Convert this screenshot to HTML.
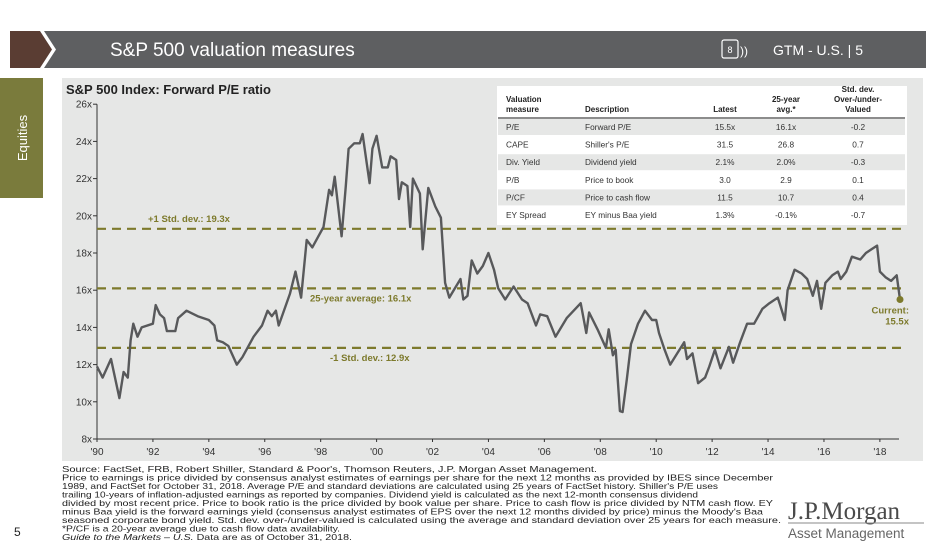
<!DOCTYPE html>
<html><head><meta charset="utf-8">
<style>
body{margin:0;background:#fff;width:939px;height:550px;overflow:hidden;font-family:"Liberation Sans",sans-serif}
svg text{font-family:"Liberation Sans",sans-serif}
</style></head>
<body>
<svg id="s" width="939" height="550" viewBox="0 0 939 550" xmlns="http://www.w3.org/2000/svg">
<g>
<rect x="40" y="31" width="886" height="37" fill="#5e5f61"/>
<polygon points="10,31 40,31 52,49.5 40,68 10,68" fill="#5a3d33"/>
<polygon points="40,31 44,31 56,49.5 44,68 40,68 52,49.5" fill="#fff"/>
<text x="110" y="56" font-size="19" fill="#fff">S&amp;P 500 valuation measures</text>
<rect x="722" y="40" width="16" height="18" rx="2" fill="none" stroke="#fff" stroke-width="1.2"/>
<text x="730" y="53" font-size="9" fill="#fff" text-anchor="middle">8</text>
<text x="740" y="55" font-size="12" fill="#fff">))</text>
<text x="773" y="55" font-size="14" fill="#fff">GTM - U.S.  |  5</text>
</g>
<g>
<rect x="0" y="78" width="43" height="120" fill="#7a7b3c"/>
<text transform="translate(27,138) rotate(-90)" font-size="13" fill="#fff" text-anchor="middle">Equities</text>
</g>
<rect x="62" y="78" width="861" height="383" fill="#e6e7e6"/>
<text x="66" y="94" font-size="13" font-weight="bold" fill="#222">S&amp;P 500 Index: Forward P/E ratio</text>
<g id="axes"></g>
<g id="refs"></g>
<g id="series"></g>
<g id="table"></g>
<g font-size="8.2" fill="#222">
<text x="62" y="472" textLength="535" lengthAdjust="spacingAndGlyphs">Source: FactSet, FRB, Robert Shiller, Standard &amp; Poor's, Thomson Reuters, J.P. Morgan Asset Management.</text>
<text x="62" y="480.5" textLength="711" lengthAdjust="spacingAndGlyphs">Price to earnings is price divided by consensus analyst estimates of earnings per share for the next 12 months as provided by IBES since December</text>
<text x="62" y="489" textLength="656" lengthAdjust="spacingAndGlyphs">1989, and FactSet for October 31, 2018. Average P/E and standard deviations are calculated using 25 years of FactSet history. Shiller's P/E uses</text>
<text x="62" y="497.5" textLength="636" lengthAdjust="spacingAndGlyphs">trailing 10-years of inflation-adjusted earnings as reported by companies. Dividend yield is calculated as the next 12-month consensus dividend</text>
<text x="62" y="506" textLength="711" lengthAdjust="spacingAndGlyphs">divided by most recent price. Price to book ratio is the price divided by book value per share. Price to cash flow is price divided by NTM cash flow. EY</text>
<text x="62" y="514.5" textLength="701" lengthAdjust="spacingAndGlyphs">minus Baa yield is the forward earnings yield (consensus analyst estimates of EPS over the next 12 months divided by price) minus the Moody's Baa</text>
<text x="62" y="523" textLength="719" lengthAdjust="spacingAndGlyphs">seasoned corporate bond yield. Std. dev. over-/under-valued is calculated using the average and standard deviation over 25 years for each measure.</text>
<text x="62" y="531.5" textLength="278" lengthAdjust="spacingAndGlyphs">*P/CF is a 20-year average due to cash flow data availability.</text>
<text x="62" y="540" textLength="290" lengthAdjust="spacingAndGlyphs"><tspan font-style="italic">Guide to the Markets – U.S.</tspan> Data are as of October 31, 2018.</text>
</g>
<text x="14" y="536" font-size="12" fill="#222">5</text>
<g>
<text x="788" y="519" font-size="25" fill="#4a4a4a" style="font-family:'Liberation Serif',serif">J.P.Morgan</text>
<line x1="788" y1="523" x2="924" y2="523" stroke="#888" stroke-width="1"/>
<text x="788" y="538" font-size="13.5" fill="#666">Asset Management</text>
</g>
</svg>
<script>
const years=[1990,1990.2,1990.5,1990.8,1990.95,1991.1,1991.2,1991.3,1991.45,1991.6,1992.0,1992.1,1992.25,1992.4,1992.5,1992.8,1992.9,1993.2,1993.6,1994.0,1994.2,1994.3,1994.5,1994.7,1995.0,1995.2,1995.6,1995.9,1996.1,1996.25,1996.4,1996.5,1996.9,1997.1,1997.3,1997.5,1997.7,1997.9,1998.1,1998.3,1998.4,1998.5,1998.75,1998.9,1999.0,1999.2,1999.4,1999.5,1999.65,1999.75,1999.85,2000.0,2000.2,2000.4,2000.5,2000.7,2000.8,2000.9,2001.1,2001.2,2001.3,2001.55,2001.65,2001.85,2002.1,2002.3,2002.45,2002.6,2002.8,2003.0,2003.1,2003.25,2003.4,2003.6,2003.8,2004.0,2004.2,2004.35,2004.6,2004.9,2005.2,2005.4,2005.7,2005.85,2006.1,2006.4,2006.8,2007.3,2007.5,2007.6,2007.9,2008.2,2008.3,2008.45,2008.55,2008.7,2008.8,2008.95,2009.1,2009.35,2009.6,2009.85,2010.0,2010.1,2010.3,2010.5,2010.75,2011.0,2011.1,2011.3,2011.5,2011.75,2011.9,2012.1,2012.3,2012.6,2012.75,2013.0,2013.25,2013.5,2013.8,2014.05,2014.35,2014.6,2014.7,2014.95,2015.2,2015.4,2015.6,2015.75,2015.9,2016.05,2016.3,2016.5,2016.6,2016.8,2017.0,2017.3,2017.5,2017.7,2017.9,2018.0,2018.2,2018.4,2018.6,2018.72];
const peValues=[11.9,11.3,12.3,10.2,11.6,11.3,13.3,14.2,13.5,14.0,14.2,15.2,14.7,14.5,13.8,13.8,14.5,14.9,14.6,14.4,14.1,13.3,13.2,13.0,12.0,12.4,13.5,14.1,14.9,14.6,14.9,14.1,15.8,17.0,15.6,18.7,18.3,18.85,19.4,21.4,21.1,22.1,18.9,21.6,23.6,23.9,23.9,24.4,22.8,21.75,23.6,24.3,22.6,22.6,23.2,23.0,20.9,21.8,21.6,19.4,22.0,21.2,18.2,21.5,20.5,19.9,16.4,15.6,16.1,16.6,15.5,15.7,17.6,16.9,17.3,18.0,17.1,16.1,15.5,16.2,15.5,15.3,14.1,14.7,14.6,13.5,14.5,15.3,13.7,14.8,13.9,12.9,13.9,12.5,12.8,9.5,9.45,11.2,13.1,14.2,14.9,14.4,14.4,13.7,12.8,12.0,12.6,13.2,12.3,12.6,11.0,11.3,11.9,12.8,11.8,12.95,12.1,13.2,14.2,14.2,15.0,15.3,15.6,14.4,16.0,17.1,16.9,16.6,15.7,16.5,15.0,16.4,16.8,17.0,16.6,17.0,17.8,17.65,18.0,18.2,18.4,17.0,16.7,16.5,16.8,15.5];
const yTicks=[8,10,12,14,16,18,20,22,24,26];
const xTickYears=[1990,1992,1994,1996,1998,2000,2002,2004,2006,2008,2010,2012,2014,2016,2018];
const refValues=[19.3,16.1,12.9];
const refLabels=["+1 Std. dev.: 19.3x","25-year average: 16.1x","-1 Std. dev.: 12.9x"];
const tableMeasures=["P/E","CAPE","Div. Yield","P/B","P/CF","EY Spread"];
const tableDescs=["Forward P/E","Shiller's P/E","Dividend yield","Price to book","Price to cash flow","EY minus Baa yield"];
const tableLatest=["15.5x","31.5","2.1%","3.0","11.5","1.3%"];
const tableAvg=["16.1x","26.8","2.0%","2.9","10.7","-0.1%"];
const tableStd=["-0.2","0.7","-0.3","0.1","0.4","-0.7"];

const NS="http://www.w3.org/2000/svg";
const X=y=>97+(y-1990)*27.96;
const Y=v=>439-(v-8)*18.6;
function mk(parent,tag,attrs,text){const e=document.createElementNS(NS,tag);for(const k in attrs)e.setAttribute(k,attrs[k]);if(text!==undefined)e.textContent=text;parent.appendChild(e);return e;}
const axes=document.getElementById('axes');
let a=mk(axes,'line',{x1:97,y1:Y(26),x2:97,y2:Y(8),stroke:'#333','stroke-width':1});


a=mk(axes,'line',{x1:97,y1:Y(8),x2:899,y2:Y(8),stroke:'#333','stroke-width':1});


yTicks.forEach(v=>{
  mk(axes,'line',{x1:93,y1:Y(v),x2:97,y2:Y(v),stroke:'#333'});
  const t=mk(axes,'text',{x:92,y:Y(v)+3.5,'font-size':10,'text-anchor':'end',fill:'#333'},v+'x');
  
  
});
xTickYears.forEach(yr=>{
  mk(axes,'line',{x1:X(yr),y1:Y(8),x2:X(yr),y2:Y(8)+3,stroke:'#333'});
  const t=mk(axes,'text',{x:X(yr),y:455,'font-size':10,'text-anchor':'middle',fill:'#333'},"'"+String(yr).slice(2));
  
  
});
const refs=document.getElementById('refs');
const labelPos=[[148,-7],[310,13],[330,13]];
refValues.forEach((v,i)=>{
  const l=mk(refs,'line',{x1:97,y1:Y(v),x2:905,y2:Y(v),stroke:'#7d7a2c','stroke-width':2.2,'stroke-dasharray':'9,6'});
  
  
  const t=mk(refs,'text',{x:labelPos[i][0],y:Y(v)+labelPos[i][1],'font-size':9.5,'font-weight':'bold',fill:'#7d7a2c'},refLabels[i]);
  
  
});
const ser=document.getElementById('series');
const p=mk(ser,'polyline',{points:years.map((y,i)=>X(y).toFixed(1)+','+Y(peValues[i]).toFixed(1)).join(' '),fill:'none',stroke:'#58595b','stroke-width':2.4,'stroke-linejoin':'round'});


const li=years.length-1;
const d=mk(ser,'circle',{cx:X(years[li]),cy:Y(peValues[li]),r:3.5,fill:'#7d7a2c'});


const c1=mk(ser,'text',{x:909,y:Y(peValues[li])+14,'font-size':9.5,'font-weight':'bold',fill:'#7d7a2c','text-anchor':'end'},'Current:');


mk(ser,'text',{x:909,y:Y(peValues[li])+25,'font-size':9.5,'font-weight':'bold',fill:'#7d7a2c','text-anchor':'end'},peValues[li].toFixed(1)+'x');
const tb=document.getElementById('table');
mk(tb,'rect',{x:497,y:86,width:410,height:139,fill:'#fff'});
const cols=[506,585,725,786,858];
const anchors=['start','start','middle','middle','middle'];
mk(tb,'text',{x:cols[0],y:102,'font-size':8,'font-weight':'bold',fill:'#222'},'Valuation');
mk(tb,'text',{x:cols[0],y:112,'font-size':8,'font-weight':'bold',fill:'#222'},'measure');
mk(tb,'text',{x:cols[1],y:112,'font-size':8,'font-weight':'bold',fill:'#222'},'Description');
mk(tb,'text',{x:cols[2],y:112,'font-size':8,'font-weight':'bold',fill:'#222','text-anchor':'middle'},'Latest');
mk(tb,'text',{x:cols[3],y:102,'font-size':8,'font-weight':'bold',fill:'#222','text-anchor':'middle'},'25-year');
mk(tb,'text',{x:cols[3],y:112,'font-size':8,'font-weight':'bold',fill:'#222','text-anchor':'middle'},'avg.*');
mk(tb,'text',{x:cols[4],y:92,'font-size':8,'font-weight':'bold',fill:'#222','text-anchor':'middle'},'Std. dev.');
mk(tb,'text',{x:cols[4],y:102,'font-size':8,'font-weight':'bold',fill:'#222','text-anchor':'middle'},'Over-/under-');
mk(tb,'text',{x:cols[4],y:112,'font-size':8,'font-weight':'bold',fill:'#222','text-anchor':'middle'},'Valued');
mk(tb,'line',{x1:498,y1:118,x2:905,y2:118,stroke:'#666','stroke-width':1.5});
tableMeasures.forEach((m,i)=>{
  const ry=119+i*17.6;
  if(i%2===0)mk(tb,'rect',{x:498,y:ry,width:407,height:16,fill:'#e6e7e6'});
  const row=[m,tableDescs[i],tableLatest[i],tableAvg[i],tableStd[i]];
  const g=mk(tb,'g',{});
  
  
  row.forEach((txt,j)=>mk(g,'text',{x:cols[j],y:ry+11,'font-size':8.3,fill:'#333','text-anchor':anchors[j]},txt));
});
</script>
</body></html>
